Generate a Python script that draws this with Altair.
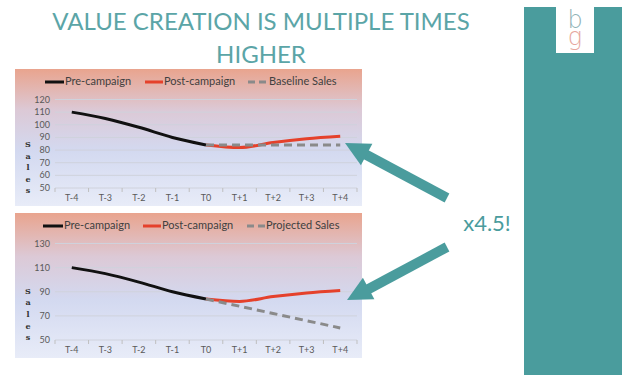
import altair as alt
import pandas as pd

# ---------------- data ----------------
periods = ["T-4", "T-3", "T-2", "T-1", "T0", "T+1", "T+2", "T+3", "T+4"]
pre_values = [110, 105, 98, 90, 84]          # T-4 .. T0
post_values = [84, 82, 86, 89, 91]           # T0 .. T+4
baseline_values = [84, 84, 84, 84, 84]       # T0 .. T+4
projected_values = [84, 78, 72, 66, 60]      # T0 .. T+4
top_ticks = [50, 60, 70, 80, 90, 100, 110, 120]
bottom_ticks = [50, 70, 90, 110, 130]
title_lines = ["VALUE CREATION IS MULTIPLE TIMES", "HIGHER"]
top_legend = ["Pre-campaign", "Post-campaign", "Baseline Sales"]
bottom_legend = ["Pre-campaign", "Post-campaign", "Projected Sales"]
axis_letters = "S\na\nl\ne\ns"
callout = "x4.5!"
logo_letters = ["b", "g"]

TEAL = "#4a9c9d"
RED = "#e5412b"
GRAY = "#8a8a8a"
FONT = "Lato"

period_df = pd.DataFrame({"i": list(range(len(periods))), "label": periods})
bound_df = pd.DataFrame({"b": [k - 0.5 for k in range(len(periods) + 1)]})
pre_df = pd.DataFrame({"i": list(range(0, 5)), "v": pre_values})
post_df = pd.DataFrame({"i": list(range(4, 9)), "v": post_values})
base_df = pd.DataFrame({"i": list(range(4, 9)), "v": baseline_values})
proj_df = pd.DataFrame({"i": list(range(4, 9)), "v": projected_values})

one = alt.Data(values=[{}])

X0, X1 = 55, 357


def xenc(field):
    return alt.X(field, type="quantitative",
                 scale=alt.Scale(domain=[-0.5, 8.5], range=[X0, X1], nice=False, zero=False),
                 axis=None)


def yenc(domain, rng):
    return alt.Y("v:Q", scale=alt.Scale(domain=domain, range=rng, nice=False, zero=False),
                 axis=None)


def panel(box, domain, rng, ticks, third_df, legend, legend_y, legend_x, sales_y, sales_lh):
    bx0, by0, bx1, by1 = box
    layers = []
    grad = alt.Gradient(gradient="linear",
                        stops=[alt.GradientStop(color="#e9a48e", offset=0),
                               alt.GradientStop(color="#dcc9d6", offset=0.3),
                               alt.GradientStop(color="#d3d9f0", offset=0.6),
                               alt.GradientStop(color="#e8ecf8", offset=1)],
                        x1=0, x2=0, y1=0, y2=1)
    layers.append(alt.Chart(one).mark_rect(fill=grad).encode(
        x=alt.value(bx0), x2=alt.value(bx1), y=alt.value(by0), y2=alt.value(by1)))
    tick_df = pd.DataFrame({"v": ticks})
    # gridlines
    layers.append(alt.Chart(tick_df).mark_rule(color="#cfd2dc", strokeWidth=1).encode(
        y=yenc(domain, rng), x=alt.value(X0), x2=alt.value(X1)))
    # y tick labels
    layers.append(alt.Chart(tick_df).mark_text(align="right", baseline="middle", fontSize=9,
                                               font=FONT, color="#595959").encode(
        y=yenc(domain, rng), x=alt.value(50), text=alt.Text("v:Q")))
    # x axis ticks
    layers.append(alt.Chart(bound_df).mark_rule(color="#bfbfbf", strokeWidth=1).encode(
        x=xenc("b"), y=alt.value(rng[0]), y2=alt.value(rng[0] + 4)))
    # x labels
    layers.append(alt.Chart(period_df).mark_text(align="center", baseline="middle", fontSize=9,
                                                 font=FONT, color="#595959").encode(
        x=xenc("i"), y=alt.value(rng[0] + 10), text="label:N"))
    # vertical axis title
    layers.append(alt.Chart(one).mark_text(align="center", baseline="middle", fontSize=8,
                                           fontWeight="bold", font="DejaVu Serif", color="#333333",
                                           lineBreak="\n", lineHeight=sales_lh).encode(
        x=alt.value(28), y=alt.value(sales_y), text=alt.value(axis_letters)))
    # series
    layers.append(alt.Chart(pre_df).mark_line(color="#111111", strokeWidth=3,
                                              interpolate="monotone").encode(
        x=xenc("i"), y=yenc(domain, rng)))
    layers.append(alt.Chart(post_df).mark_line(color=RED, strokeWidth=3,
                                               interpolate="monotone").encode(
        x=xenc("i"), y=yenc(domain, rng)))
    layers.append(alt.Chart(third_df).mark_line(color=GRAY, strokeWidth=3,
                                                strokeDash=[8, 5]).encode(
        x=xenc("i"), y=yenc(domain, rng)))
    # legend
    styles = [("#111111", None), (RED, None), (GRAY, [7, 4])]
    for (lx0, lx1), name, (col, dash) in zip(legend_x, legend, styles):
        kw = dict(color=col, strokeWidth=3)
        if dash:
            kw["strokeDash"] = dash
        layers.append(alt.Chart(one).mark_rule(**kw).encode(
            x=alt.value(lx0), x2=alt.value(lx1), y=alt.value(legend_y)))
        layers.append(alt.Chart(one).mark_text(align="left", baseline="middle", fontSize=11,
                                               font=FONT, color="#404040").encode(
            x=alt.value(lx1 + 1), y=alt.value(legend_y), text=alt.value(name)))
    return layers


layers = []
# sidebar
layers.append(alt.Chart(one).mark_rect(fill=TEAL).encode(
    x=alt.value(524), x2=alt.value(622), y=alt.value(7), y2=alt.value(375)))
layers.append(alt.Chart(one).mark_rect(fill="white").encode(
    x=alt.value(556), x2=alt.value(594), y=alt.value(0), y2=alt.value(53)))
layers.append(alt.Chart(one).mark_text(align="center", baseline="alphabetic", fontSize=24,
                                       font="DejaVu Sans", fontWeight=200, color="#8fb2b6").encode(
    x=alt.value(575), y=alt.value(28), text=alt.value(logo_letters[0])))
layers.append(alt.Chart(one).mark_text(align="center", baseline="alphabetic", fontSize=24,
                                       font="DejaVu Sans", fontWeight=200, color="#e6a79e").encode(
    x=alt.value(575), y=alt.value(45), text=alt.value(logo_letters[1])))

# title
for k, line in enumerate(title_lines):
    layers.append(alt.Chart(one).mark_text(align="center", baseline="alphabetic", fontSize=24,
                                           font=FONT, color="#5ba5a7").encode(
        x=alt.value(261), y=alt.value(30 + 33 * k), text=alt.value(line)))

layers += panel((15, 69, 362, 206), [50, 120], [188, 99.5], top_ticks, base_df, top_legend,
                82, [(45, 64), (145, 163), (248, 268)], 145, 11.6)
layers += panel((15, 213, 362, 358), [50, 130], [340, 243.5], bottom_ticks, proj_df, bottom_legend,
                226, [(43, 63), (143, 161), (247, 265)], 291.5, 11.7)

# arrows
for (tx, ty), (ex, ey), (hx, hy), ang in [((447, 198), (361, 152), (345, 143), 298),
                                          ((447, 247), (363, 292), (347, 300), 242)]:
    layers.append(alt.Chart(one).mark_rule(color=TEAL, strokeWidth=10).encode(
        x=alt.value(tx), y=alt.value(ty), x2=alt.value(ex), y2=alt.value(ey)))
    layers.append(alt.Chart(one).mark_point(shape="M0,0L1,2L-1,2Z", filled=True, opacity=1,
                                            fill=TEAL, stroke=TEAL, strokeWidth=0,
                                            size=600, angle=ang).encode(
        x=alt.value(hx), y=alt.value(hy)))

layers.append(alt.Chart(one).mark_text(align="center", baseline="alphabetic", fontSize=22,
                                       font=FONT, color=TEAL).encode(
    x=alt.value(487), y=alt.value(231), text=alt.value(callout)))

chart = alt.layer(*layers).resolve_scale(x="independent", y="independent").properties(
    width=622, height=375, padding=0, autosize="none", background="white"
).configure_view(stroke=None)

chart.save("out.html", embed_options={"renderer": "svg", "actions": False})
